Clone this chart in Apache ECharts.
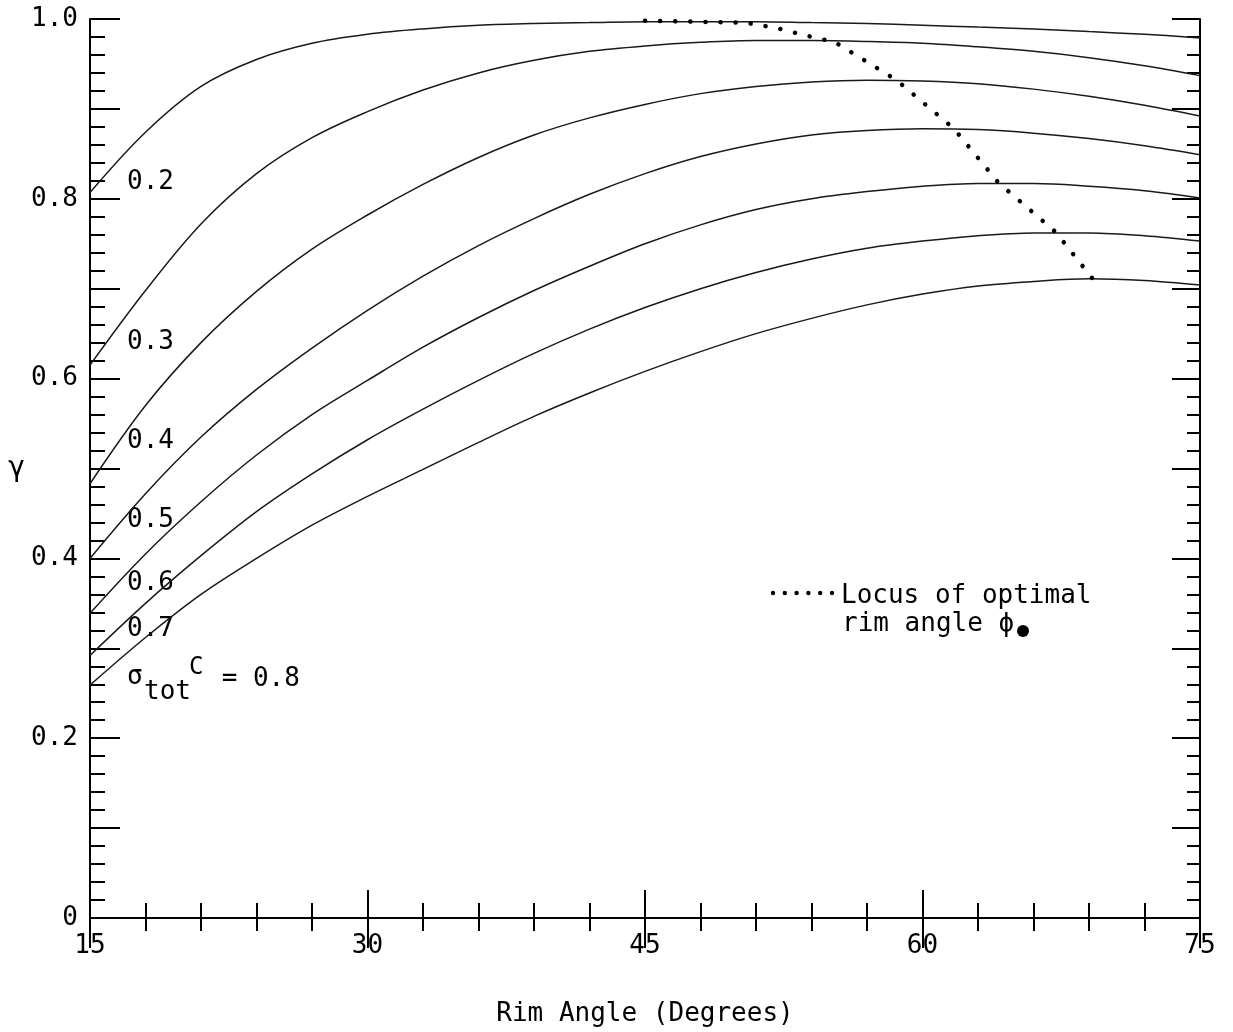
<!DOCTYPE html>
<html>
<head>
<meta charset="utf-8">
<script src="https://cdn.jsdelivr.net/npm/echarts@6/dist/echarts.min.js"></script>
<style>
  html, body { margin: 0; padding: 0; background: #fff; }
  #myChart { width: 1233px; height: 1032px; }
</style>
</head>
<body>
<div id="myChart"></div>
<script>
  var rimAngle = [15, 18, 21, 24, 27, 30, 33, 36, 39, 42, 45, 48, 51, 54, 57, 60, 63, 66, 69, 72, 75]
  // gamma for sigma_tot*C = 0.2 ... 0.8
  var gamma02 = [0.807, 0.874, 0.925, 0.955, 0.973, 0.983, 0.989, 0.993, 0.995, 0.996, 0.997, 0.997, 0.997, 0.996, 0.995, 0.993, 0.991, 0.989, 0.986, 0.983, 0.979]
  var gamma03 = [0.615, 0.698, 0.772, 0.828, 0.868, 0.897, 0.921, 0.940, 0.954, 0.964, 0.970, 0.974, 0.976, 0.976, 0.975, 0.973, 0.969, 0.964, 0.957, 0.948, 0.937]
  var gamma04 = [0.483, 0.570, 0.640, 0.697, 0.744, 0.782, 0.816, 0.846, 0.871, 0.890, 0.905, 0.917, 0.925, 0.930, 0.932, 0.931, 0.928, 0.922, 0.914, 0.904, 0.892]
  var gamma05 = [0.400, 0.472, 0.535, 0.588, 0.634, 0.676, 0.714, 0.748, 0.778, 0.805, 0.828, 0.847, 0.861, 0.871, 0.876, 0.878, 0.877, 0.873, 0.867, 0.859, 0.849]
  var gamma06 = [0.339, 0.405, 0.463, 0.515, 0.560, 0.598, 0.635, 0.668, 0.698, 0.725, 0.750, 0.771, 0.788, 0.800, 0.808, 0.814, 0.817, 0.817, 0.814, 0.809, 0.801]
  var gamma07 = [0.292, 0.350, 0.403, 0.452, 0.494, 0.532, 0.566, 0.598, 0.628, 0.655, 0.679, 0.700, 0.718, 0.733, 0.745, 0.753, 0.759, 0.762, 0.762, 0.759, 0.753]
  var gamma08 = [0.259, 0.312, 0.360, 0.400, 0.437, 0.469, 0.499, 0.529, 0.558, 0.584, 0.608, 0.630, 0.650, 0.667, 0.682, 0.694, 0.703, 0.708, 0.711, 0.709, 0.704]
  var curveNames = ['0.2', '0.3', '0.4', '0.5', '0.6', '0.7', '0.8']

  // locus of optimal rim angle
  var locusAngle = [45, 50.4, 52.1, 54.4, 55.2, 58.6, 61.7, 64.1, 67.2, 69.2]
  var locusGamma = [0.998, 0.996, 0.990, 0.978, 0.975, 0.932, 0.878, 0.818, 0.763, 0.711]

  var yTickLabels = ['0', '0.2', '0.4', '0.6', '0.8', '1.0']

  var FONT = 'DejaVu Sans Mono'
  var allCurves = [gamma02, gamma03, gamma04, gamma05, gamma06, gamma07, gamma08]

  function zip (xs, ys) {
    var out = []
    for (var i = 0; i < xs.length; i++) {
      out.push([xs[i], ys[i]])
    }
    return out
  }

  var series = []
  for (var k = 0; k < allCurves.length; k++) {
    series.push({
      name: curveNames[k],
      type: 'line',
      data: zip(rimAngle, allCurves[k]),
      smooth: 0.35,
      showSymbol: false,
      silent: true,
      lineStyle: { color: '#1a1a1a', width: 1.5 }
    })
  }
  series.push({
    name: 'Locus',
    type: 'line',
    data: zip(locusAngle, locusGamma),
    showSymbol: false,
    silent: true,
    z: 5,
    lineStyle: { color: '#000', width: 4.5, type: [0.1, 15], cap: 'round' }
  })

  var axisLine = { show: true, lineStyle: { color: '#000', width: 2 } }

  function xAxis (pos, showLabel, tickLen, minorLen) {
    return {
      type: 'value',
      position: pos,
      min: 15,
      max: 75,
      interval: 15,
      axisLine: axisLine,
      axisTick: { show: true, inside: true, length: tickLen, lineStyle: { color: '#000', width: 2 } },
      minorTick: { show: true, splitNumber: 5, length: minorLen, lineStyle: { color: '#000', width: 2 } },
      splitLine: { show: false },
      axisLabel: { show: showLabel, margin: 15, color: '#000', fontSize: 26, fontFamily: FONT }
    }
  }

  function yAxis (pos, showLabel, tickLen, minorLen) {
    return {
      type: 'value',
      position: pos,
      min: 0,
      max: 1,
      interval: 0.1,
      axisLine: axisLine,
      axisTick: { show: true, inside: true, length: tickLen, lineStyle: { color: '#000', width: 2 } },
      minorTick: { show: true, splitNumber: 5, length: minorLen, lineStyle: { color: '#000', width: 2 } },
      splitLine: { show: false },
      axisLabel: {
        show: showLabel,
        margin: 12,
        color: '#000',
        fontSize: 26,
        fontFamily: FONT,
        formatter: function (v) {
          var i = Math.round(v * 5)
          return Math.abs(v * 5 - i) < 1e-6 ? yTickLabels[i] : ''
        }
      }
    }
  }

  var bottomX = xAxis('bottom', true, 28, 15)
  bottomX.name = 'Rim Angle (Degrees)'
  bottomX.nameLocation = 'middle'
  bottomX.nameGap = 83
  bottomX.nameTextStyle = { color: '#000', fontSize: 26, fontFamily: FONT }

  var leftY = yAxis('left', true, 30, 15)
  leftY.name = 'γ'
  leftY.nameLocation = 'middle'
  leftY.nameRotate = 0
  leftY.nameGap = 64
  leftY.nameTextStyle = { color: '#000', fontSize: 28, fontFamily: FONT }

  function txt (x, y, s, size) {
    return {
      type: 'text',
      x: x,
      y: y,
      style: { text: s, fill: '#000', font: (size || 26) + 'px "' + FONT + '"', textVerticalAlign: 'middle', verticalAlign: 'middle' }
    }
  }

  var graphics = [
    txt(127, 182, curveNames[0]),
    txt(127, 342, curveNames[1]),
    txt(127, 441, curveNames[2]),
    txt(127, 520, curveNames[3]),
    txt(127, 583, curveNames[4]),
    txt(127, 629, curveNames[5]),
    txt(127, 677, 'σ'),
    txt(144, 692, 'tot'),
    txt(189, 668, 'C', 24),
    txt(206, 679, ' = ' + curveNames[6]),
    txt(841, 596, 'Locus of optimal'),
    txt(842, 624, 'rim angle ϕ'),
    { type: 'circle', shape: { cx: 1023, cy: 631, r: 6 }, style: { fill: '#000' } }
  ]
  for (var d = 0; d < 6; d++) {
    graphics.push({ type: 'circle', shape: { cx: 773 + d * 11.8, cy: 593, r: 2.2 }, style: { fill: '#000' } })
  }

  var myChart = echarts.init(document.getElementById('myChart'))
  myChart.setOption({
    backgroundColor: '#fff',
    animation: false,
    grid: { left: 90, right: 33, top: 19, bottom: 114 },
    xAxis: [bottomX, xAxis('top', false, 30, 13)],
    yAxis: [leftY, yAxis('right', false, 28, 13)],
    series: series,
    graphic: graphics
  })
</script>
</body>
</html>
